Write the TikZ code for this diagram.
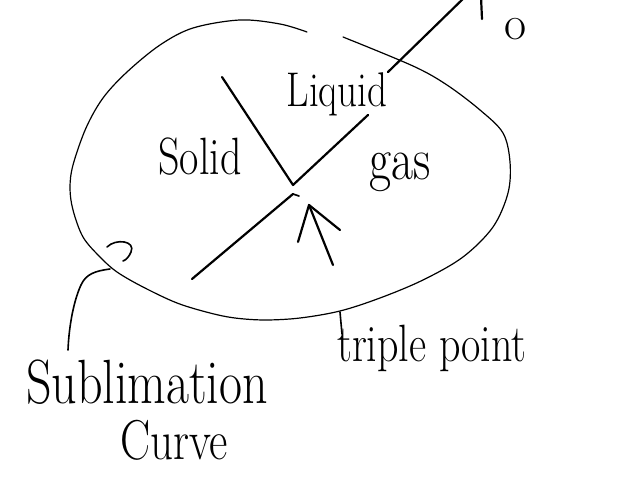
\documentclass[tikz,border=0pt]{standalone}
\usepackage{fontspec}
\usepackage{graphicx}
\begin{document}
\begin{tikzpicture}[x=1pt,y=-1pt,
  rim/.style={line width=1.2pt, line cap=round, line join=round},
  phaseline/.style={line width=2.2pt, line cap=round, line join=round},
  thinline/.style={line width=1.6pt, line cap=round, line join=round},
  hand/.style={font=\fontsize{#1}{#1}\selectfont, inner sep=0pt, anchor=base},
  hand/.default=40]
\newcommand\tallword[1]{\scalebox{1}[1.25]{#1}}
\useasboundingbox (0,0) rectangle (627,486);
\clip (0,0) rectangle (627,486);
% egg-shaped outline, open at the top
\draw[rim] plot[smooth, tension=0.55] coordinates {(343,37) (413,66) (447,85) (480,110) (503,133) (510,162) (508,193) (493,227) (463,257) (423,280) (380,298) (340,311) (300,318) (265,320) (235,318) (210,313) (177,303) (143,287) (117,272) (100,257) (83,237) (73,210) (70,188) (73,165) (86,128) (103,98) (127,72) (160,45) (193,28) (240,20) (280,24) (307,32)};
% phase boundaries
\coordinate (sl) at (222,77);
\coordinate (tp) at (293,185);
\coordinate (lg) at (368,115);
\draw[phaseline] (sl) -- (tp) -- (lg);
\coordinate (cr0) at (388,72);
\coordinate (cr1) at (468,-6);
\draw[phaseline] (cr0) -- (cr1);
\coordinate (sv0) at (293,194);
\coordinate (sv1) at (192,279);
\coordinate (svt) at (299,196);
\draw[phaseline] (sv1) -- (sv0);
\draw[thinline] (sv0) -- (svt);
% arrow to triple point
\coordinate (ab) at (333,265);
\coordinate (at) at (309,205);
\coordinate (al) at (298,242);
\coordinate (ar) at (340,230);
\draw[phaseline] (ab) -- (at);
\draw[phaseline] (al) -- (at) -- (ar);
% small hook
\coordinate (hk0) at (107,247);
\coordinate (hk1) at (123,261);
\draw[thinline] (hk0) .. controls (116,238) and (136,241) .. (131,252) .. controls (129,257) and (126,260) .. (hk1);
% labels
\node[hand=42] (solid) at (200,175) {\tallword{Solid}};
\node[hand=39] (liquid) at (337,107) {\tallword{Liquid}};
\node[hand=48] (gas) at (400,180) {\tallword{gas}};
\node[hand=42, anchor=base west] (triple) at (337,362) {\tallword{triple point}};
\node[hand=50] (subl) at (147,403) {\tallword{Sublimation}};
\node[hand=45] (curve) at (174,460) {\tallword{Curve}};
\node[hand=48] (zero) at (516,40) {o};
\draw[phaseline] (481,-3) -- (482,19);
% leaders
\coordinate (e1) at (110,269);
\coordinate (e1b) at (68,350);
\draw[thinline] (e1) .. controls (95,271) and (86,274) .. (81,285) .. controls (74,300) and (69,325) .. (e1b);
\coordinate (e2) at (340,312);
\coordinate (e2b) at (342,334);
\draw[thinline] (e2) -- (e2b);
\end{tikzpicture}
\end{document}
